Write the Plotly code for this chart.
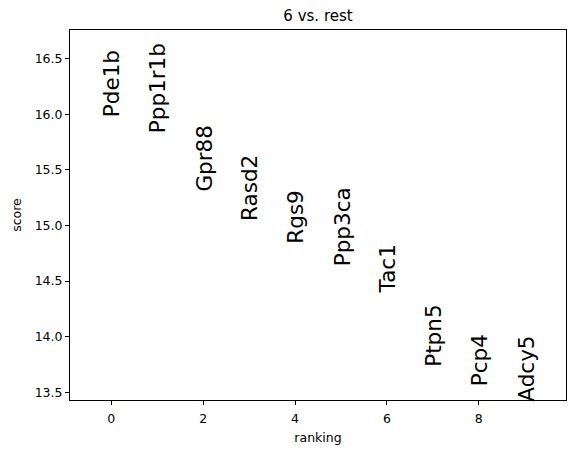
import plotly.graph_objects as go

genes = ["Pde1b", "Ppp1r1b", "Gpr88", "Rasd2", "Rgs9", "Ppp3ca", "Tac1", "Ptpn5", "Pcp4", "Adcy5"]
scores = [15.99, 15.85, 15.32, 15.06, 14.85, 14.655, 14.41, 13.745, 13.57, 13.43]
ranking = list(range(len(genes)))
title = "6 vs. rest"

ymin = min(scores)
ymax = max(scores)
ymax += 0.3 * (ymax - ymin)

fig = go.Figure()
fig.add_trace(go.Scatter(x=ranking, y=scores, mode="markers", marker=dict(opacity=0), hoverinfo="skip", showlegend=False))

font = "DejaVu Sans, Liberation Sans, sans-serif"
for i, (g, s) in enumerate(zip(genes, scores)):
    fig.add_annotation(x=i, y=s, text=g, textangle=-90, xanchor="center", yanchor="bottom",
                       showarrow=False, font=dict(family=font, size=21.5, color="black"),
                       borderpad=0, xshift=1, yshift=-3)

axis_common = dict(showgrid=False, zeroline=False, showline=True, linecolor="black", linewidth=1,
                   mirror=True, ticks="outside", ticklen=4, tickwidth=1, tickcolor="black",
                   tickfont=dict(family=font, size=12.5, color="black"))
fig.update_xaxes(range=[-0.9, 9.9], tickvals=[0, 2, 4, 6, 8], ticklabelstandoff=3,
                 title=dict(text="ranking", font=dict(family=font, size=12.5, color="black"), standoff=8),
                 **axis_common)
fig.update_yaxes(range=[ymin, ymax], dtick=0.5, tick0=13.5, tickformat=".1f",
                 title=dict(text="score", font=dict(family=font, size=12.5, color="black"), standoff=10),
                 **axis_common)
fig.update_layout(
    width=576, height=453,
    margin=dict(l=70, r=10, t=30, b=53),
    plot_bgcolor="white", paper_bgcolor="white",
    title=dict(text=title, x=318/576, xanchor="center", y=1-16/453, yanchor="middle",
               font=dict(family=font, size=15, color="black")),
)
fig.write_html("out.html")
